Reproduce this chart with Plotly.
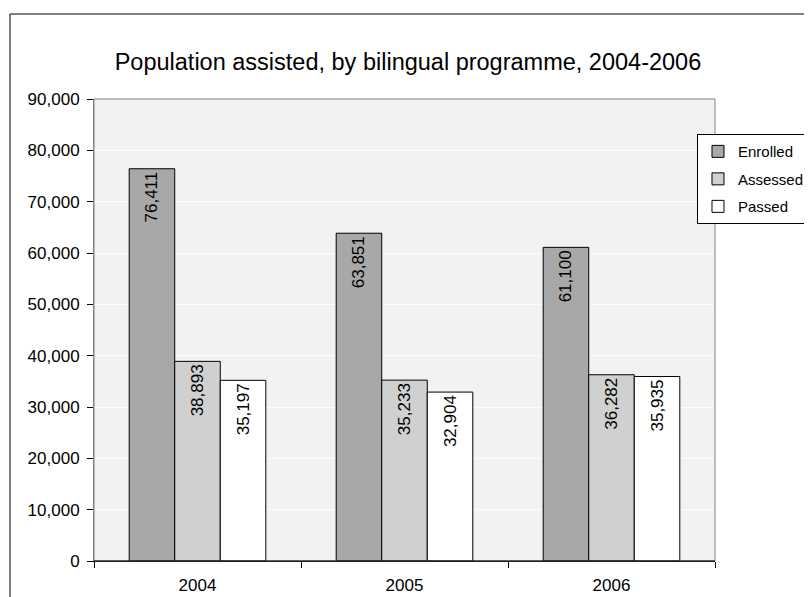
import plotly.graph_objects as go

years = ["2004", "2005", "2006"]
enrolled = [76411, 63851, 61100]
assessed = [38893, 35233, 36282]
passed = [35197, 32904, 35935]
series_names = ["Enrolled", "Assessed", "Passed"]
series_colors = ["#a8a8a8", "#d0d0d0", "#ffffff"]

FONT = "Liberation Sans, Arial, sans-serif"

fig = go.Figure()
for name, vals, col in zip(series_names, [enrolled, assessed, passed], series_colors):
    fig.add_trace(go.Bar(
        x=years, y=vals, name=name, legendgroup=name,
        marker=dict(color=col, line=dict(color="#000000", width=1)),
        text=[f"{v:,}" for v in vals],
        textposition="inside", insidetextanchor="end", textangle=-90,
        insidetextfont=dict(family=FONT, size=17, color="#000000"),
        cliponaxis=False,
    ))

fig.update_layout(
    width=804, height=589,
    margin=dict(l=86, r=97, t=91, b=36, autoexpand=False),
    paper_bgcolor="#ffffff",
    plot_bgcolor="#f2f2f2",
    barmode="group", bargap=0.34, bargroupgap=0,
    font=dict(family=FONT, size=17, color="#000000"),
    title=dict(text="Population assisted, by bilingual programme, 2004-2006",
               x=0.5056, xanchor="center", xref="paper", y=0.909, yanchor="middle",
               font=dict(family=FONT, size=23.5, color="#000000")),
    showlegend=True,
    legend=dict(x=0.971, y=0.924, xanchor="left", yanchor="top",
                bgcolor="#ffffff", bordercolor="#000000", borderwidth=1,
                font=dict(family=FONT, size=15), itemwidth=30, tracegroupgap=5),
    xaxis=dict(type="category", showline=True, linecolor="#000000", linewidth=1,
               ticks="outside", tickson="boundaries", ticklen=6, tickcolor="#000000",
               showgrid=False, ticklabelstandoff=9),
    yaxis=dict(range=[0, 90000], dtick=10000, tickformat=",", showline=True,
               linecolor="#808080", linewidth=1, ticks="outside", ticklen=6,
               tickcolor="#000000", showgrid=True, gridcolor="#fcfcfc", zeroline=False,
               ticklabelstandoff=4),
    shapes=[
        dict(type="rect", xref="paper", yref="paper", x0=0, x1=1, y0=0, y1=1,
             line=dict(color="#808080", width=1), layer="above"),
        dict(type="line", xref="paper", yref="paper", x0=0, x1=1, y0=0, y1=0,
             line=dict(color="#000000", width=1), layer="above"),
        dict(type="rect", xref="paper", yref="paper", x0=-0.1353, x1=1.3, y0=-0.2, y1=1.184,
             line=dict(color="#000000", width=1), layer="below"),
    ],
)

fig.write_html("out.html")
